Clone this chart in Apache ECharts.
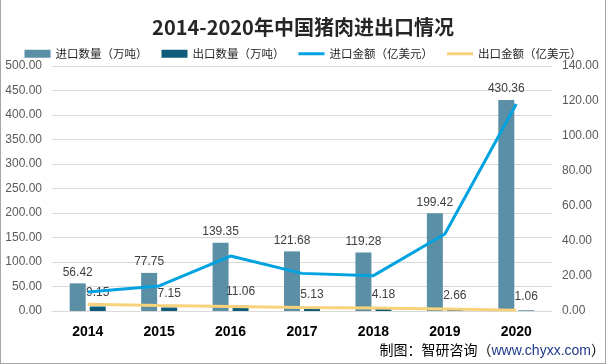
<!DOCTYPE html>
<html><head><meta charset="utf-8">
<script src="https://cdn.jsdelivr.net/npm/echarts@6/dist/echarts.min.js"></script>
<style>
html,body{margin:0;padding:0;background:#fff;}
#wrap{position:relative;width:606px;height:364px;box-sizing:border-box;border:1px solid #a6a6a6;border-top:none;}
#c{position:absolute;left:-1px;top:0;width:606px;height:364px;}
#foot{position:absolute;right:0px;bottom:4px;font-family:"Noto Sans CJK SC",sans-serif;font-size:14px;color:#000;}
#foot span{color:#1f3a8a;font-family:"Liberation Sans",sans-serif;}
</style></head>
<body><div id="wrap"><div id="c"></div><div id="foot">制图：智研咨询（<span>www.chyxx.com</span>）</div></div>
<script>
const categories = ['2014','2015','2016','2017','2018','2019','2020'];
const importVolume = [56.42, 77.75, 139.35, 121.68, 119.28, 199.42, 430.36];
const exportVolume = [9.15, 7.15, 11.06, 5.13, 4.18, 2.66, 1.06];
const importValue = [10.8, 14.3, 31.4, 21.5, 20.2, 44.0, 118.3];
const exportValue = [3.9, 3.2, 2.6, 2.0, 1.7, 1.1, 0.5];

const chart = echarts.init(document.getElementById('c'));
const lblStyle = {show:true, position:'top', distance:5, color:'#404040', fontSize:12, fontFamily:'Liberation Sans, Arial, sans-serif'};
const lineIcon = 'path://M0,0 L26,0 L26,3 L0,3 Z';
chart.setOption({
  animation:false,
  title:{text:'2014-2020年中国猪肉进出口情况', left:'center', top:12,
    textStyle:{fontSize:20, fontWeight:'bold', color:'#262626', fontFamily:'Noto Sans CJK SC'}},
  legend:{top:43, left:'center', itemWidth:26, itemHeight:8, itemGap:14,
    textStyle:{fontSize:11.5, color:'#262626', fontFamily:'Noto Sans CJK SC'},
    data:[
      {name:'进口数量（万吨）', icon:'rect'},
      {name:'出口数量（万吨）', icon:'rect'},
      {name:'进口金额（亿美元）', icon:lineIcon},
      {name:'出口金额（亿美元）', icon:lineIcon}
    ]},
  grid:{left:52, right:54, top:66, bottom:53},
  xAxis:{type:'category', data:categories,
    axisLine:{show:true, lineStyle:{color:'#d9d9d9'}}, axisTick:{show:false},
    axisLabel:{fontSize:14, fontWeight:'bold', color:'#000', margin:14, fontFamily:'Liberation Sans, Arial, sans-serif'}},
  yAxis:[
    {type:'value', min:0, max:500, interval:50,
      axisLine:{show:false}, axisTick:{show:false},
      splitLine:{lineStyle:{color:'#d9d9d9'}},
      axisLabel:{formatter:v=>v.toFixed(2), color:'#595959', fontSize:12, margin:10, fontFamily:'Liberation Sans, Arial, sans-serif'}},
    {type:'value', min:0, max:140, interval:20,
      axisLine:{show:false}, axisTick:{show:false}, splitLine:{show:false},
      axisLabel:{formatter:v=>v.toFixed(2), color:'#595959', fontSize:12, margin:10, fontFamily:'Liberation Sans, Arial, sans-serif'}}
  ],
  series:[
    {name:'进口数量（万吨）', type:'bar', data:importVolume, barWidth:16, barGap:'25%',
      itemStyle:{color:'#5b8fa6'}, label:lblStyle},
    {name:'出口数量（万吨）', type:'bar', data:exportVolume, barWidth:16,
      itemStyle:{color:'#0f5b7a'}, label:Object.assign({}, lblStyle, {distance:8})},
    {name:'进口金额（亿美元）', type:'line', yAxisIndex:1, data:importValue, symbol:'none',
      lineStyle:{width:3, color:'#00a3e0'}, itemStyle:{color:'#00a3e0'}, z:5},
    {name:'出口金额（亿美元）', type:'line', yAxisIndex:1, data:exportValue, symbol:'none',
      lineStyle:{width:3, color:'#f8d27a'}, itemStyle:{color:'#f8d27a'}, z:4}
  ]
});
</script></body></html>
